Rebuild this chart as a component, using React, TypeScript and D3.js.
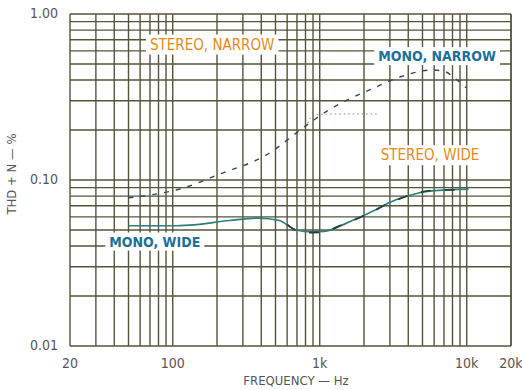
import React, { useRef, useEffect } from "react";
import * as d3 from "d3";

// frequency / THD+N readings (Hz, %)
const narrowFreq = [50, 130, 200, 430, 850, 1150, 1500, 2200, 3600, 5800, 7100, 8300, 9900];
const monoNarrow = [0.078, 0.092, 0.107, 0.141, 0.22, 0.264, 0.3, 0.35, 0.42, 0.46, 0.45, 0.41, 0.36];

const stereoNarrowFreq = [830, 900, 1300, 2500];
const stereoNarrow = [0.22, 0.246, 0.25, 0.25];

const wideFreq = [50, 100, 130, 243, 386, 530, 690, 890, 1070, 1520, 2060, 3300, 4700, 5800, 10300];
const monoWide = [0.053, 0.053, 0.0535, 0.057, 0.059, 0.057, 0.05, 0.0487, 0.049, 0.055, 0.062, 0.076, 0.0835, 0.086, 0.088];

const stereoWideFreq = [600, 700, 890, 1070, 1300, 2000, 3300, 4700, 5800, 10300];
const stereoWide = [0.054, 0.0495, 0.0482, 0.0485, 0.052, 0.061, 0.0755, 0.084, 0.0865, 0.0875];

const xTicks = [20, 100, 1000, 10000, 20000];
const xTickLabels = ["20", "100", "1k", "10k", "20k"];
const yTicks = [0.01, 0.1, 1];
const yTickLabels = ["0.01", "0.10", "1.00"];

const labels = [
  { text: "STEREO, NARROW", f: 70, v: 0.65, color: "#e58a17", weight: "normal", size: 15 },
  { text: "MONO, NARROW", f: 2500, v: 0.55, color: "#1d6f99", weight: "bold", size: 14 },
  { text: "STEREO, WIDE", f: 2600, v: 0.14, color: "#e58a17", weight: "normal", size: 15 },
  { text: "MONO, WIDE", f: 37, v: 0.042, color: "#1d6f99", weight: "bold", size: 14 },
];

function App() {
  const svgRef = useRef(null);
  const width = 522;
  const height = 390;
  const marginLeft = 70;
  const marginRight = 11;
  const marginTop = 14;
  const marginBottom = 44;

  useEffect(() => {
    const svg = d3.select(svgRef.current);
    svg.selectAll("*").remove();

    const x = d3.scaleLog().domain([20, 20000]).range([marginLeft, width - marginRight]);
    const y = d3.scaleLog().domain([0.01, 1]).range([height - marginBottom, marginTop]);

    const font = "'DejaVu Sans Condensed', 'Liberation Sans', sans-serif";

    // grid
    const xGrid = [];
    for (let d = 10; d <= 10000; d *= 10) for (let k = 1; k <= 9; k++) {
      const f = d * k;
      if (f >= 20 && f <= 20000) xGrid.push(f);
    }
    xGrid.push(20000);
    const yGrid = [];
    for (let d = 0.01; d < 1; d *= 10) for (let k = 1; k <= 9; k++) yGrid.push(d * k);
    yGrid.push(1);

    const grid = svg.append("g").attr("stroke", "#55543a").attr("stroke-width", 1.4);
    grid.selectAll("line.v").data(xGrid).join("line")
      .attr("x1", d => x(d)).attr("x2", d => x(d))
      .attr("y1", y(1)).attr("y2", y(0.01));
    grid.selectAll("line.h").data(yGrid).join("line")
      .attr("x1", x(20)).attr("x2", x(20000))
      .attr("y1", d => y(d)).attr("y2", d => y(d));

    // curves
    const line = d3.line().curve(d3.curveMonotoneX);
    const pts = (fs, vs) => fs.map((f, i) => [x(f), y(vs[i])]);

    svg.append("path").attr("d", line(pts(stereoNarrowFreq, stereoNarrow)))
      .attr("fill", "none").attr("stroke", "#8a8a80").attr("stroke-width", 1)
      .attr("stroke-dasharray", "1.5,3");
    svg.append("path").attr("d", line(pts(narrowFreq, monoNarrow)))
      .attr("fill", "none").attr("stroke", "#2c4a55").attr("stroke-width", 1.4)
      .attr("stroke-dasharray", "5,7");
    svg.append("path").attr("d", line(pts(wideFreq, monoWide)))
      .attr("fill", "none").attr("stroke", "#2a7f78").attr("stroke-width", 1.7);
    svg.append("path").attr("d", line(pts(stereoWideFreq, stereoWide)))
      .attr("fill", "none").attr("stroke", "#2b3a33").attr("stroke-width", 1.7)
      .attr("stroke-dasharray", "10,14");

    // curve labels with white backing
    labels.forEach(l => {
      const g = svg.append("g");
      const t = g.append("text")
        .attr("x", x(l.f)).attr("y", y(l.v))
        .attr("dominant-baseline", "middle")
        .attr("font-family", font).attr("font-size", l.size)
        .attr("font-weight", l.weight).attr("fill", l.color)
        .text(l.text);
      const b = t.node().getBBox();
      g.insert("rect", "text")
        .attr("x", b.x - 4).attr("y", b.y - 1)
        .attr("width", b.width + 8).attr("height", b.height + 2)
        .attr("fill", "white");
    });

    // tick labels
    svg.append("g").selectAll("text").data(xTicks).join("text")
      .attr("x", d => x(d)).attr("y", height - marginBottom + 22)
      .attr("text-anchor", "middle")
      .attr("font-family", font).attr("font-size", 14).attr("fill", "#555")
      .text((d, i) => xTickLabels[i]);
    svg.append("g").selectAll("text").data(yTicks).join("text")
      .attr("x", marginLeft - 12).attr("y", d => y(d))
      .attr("text-anchor", "end").attr("dominant-baseline", "middle")
      .attr("font-family", font).attr("font-size", 14).attr("fill", "#555")
      .text((d, i) => yTickLabels[i]);

    // axis titles
    svg.append("text")
      .attr("x", 296).attr("y", height - 5)
      .attr("text-anchor", "middle")
      .attr("font-family", font).attr("font-size", 13).attr("fill", "#555")
      .text("FREQUENCY — Hz");
    svg.append("text")
      .attr("transform", `translate(16,${y(0.1) - 6}) rotate(-90)`)
      .attr("text-anchor", "middle")
      .attr("font-family", font).attr("font-size", 13).attr("fill", "#555")
      .text("THD + N — %");
  }, []);

  return (
    <svg ref={svgRef} width={width} height={height}
      style={{ position: "absolute", left: 0, top: 0, background: "white" }} />
  );
}

export default App;
